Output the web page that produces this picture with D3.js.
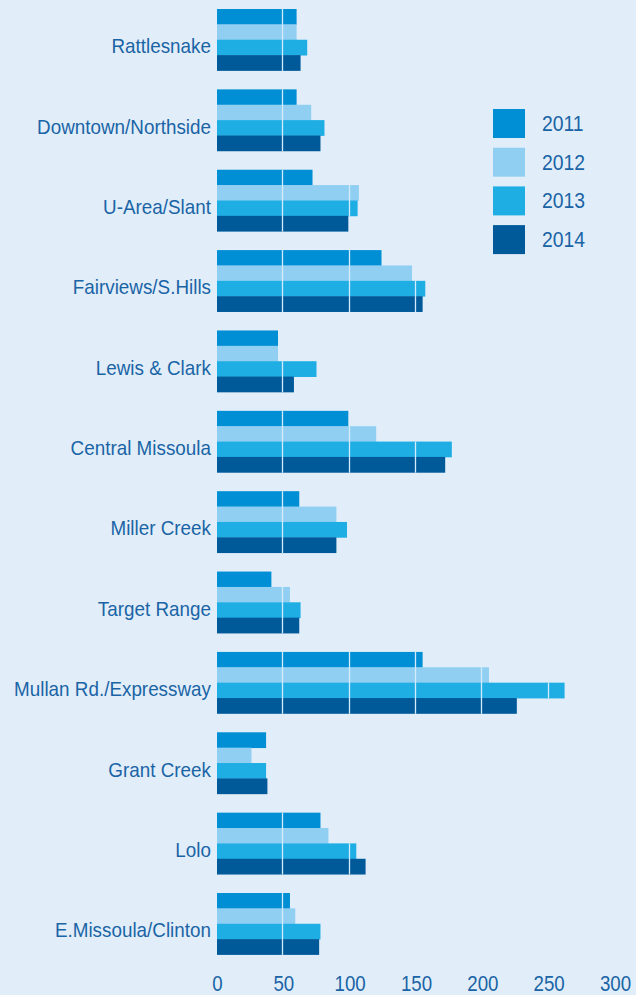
<!DOCTYPE html>
<html>
<head>
<meta charset="utf-8">
<script src="https://d3js.org/d3.v7.min.js"></script>
<style>
    body { margin: 0; background: #e1eef9; }
    svg text { font-family: "Liberation Sans", Arial, sans-serif; fill: #1a64a6; }
</style>
</head>
<body>
<script>
//neighbourhoods, top to bottom
var areas = ["Rattlesnake", "Downtown/Northside", "U-Area/Slant", "Fairviews/S.Hills",
    "Lewis & Clark", "Central Missoula", "Miller Creek", "Target Range",
    "Mullan Rd./Expressway", "Grant Creek", "Lolo", "E.Missoula/Clinton"];

var years = ["2011", "2012", "2013", "2014"];

//values per year, same order as areas
var v2011 = [60, 60, 72, 124, 46, 99, 62, 41, 155, 37, 78, 55];
var v2012 = [60, 71, 107, 147, 46, 120, 90, 55, 205, 26, 84, 59];
var v2013 = [68, 81, 106, 157, 75, 177, 98, 63, 262, 37, 105, 78];
var v2014 = [63, 78, 99, 155, 58, 172, 90, 62, 226, 38, 112, 77];

var xTicks = [0, 50, 100, 150, 200, 250, 300];

var colors = ["#008fd5", "#91cff2", "#1eaee4", "#005a9a"];

window.onload = drawChart();

function drawChart(){

    var width = 636,
        height = 995;

    var series = [v2011, v2012, v2013, v2014];

    //one record per area
    var rows = areas.map(function(a, i){
        return { area: a, values: years.map(function(y, j){ return { year: y, value: series[j][i] }; }) };
    });

    var svg = d3.select("body")
        .append("svg")
        .attr("width", width)
        .attr("height", height);

    svg.append("rect")
        .attr("width", width)
        .attr("height", height)
        .attr("fill", "#e1eef9");

    var x = d3.scaleLinear()
        .domain([0, 300])
        .range([217, 615]);

    var y0 = d3.scaleBand()
        .domain(areas)
        .range([9, 954.5])
        .paddingInner(0.235)
        .paddingOuter(0)
        .align(0);

    var y1 = d3.scaleBand()
        .domain(years)
        .range([0, y0.bandwidth()]);

    var color = d3.scaleOrdinal()
        .domain(years)
        .range(colors);

    //clip path so the grid shows only on the bars
    var clip = svg.append("defs").append("clipPath").attr("id", "barclip");

    var groups = svg.selectAll(".area")
        .data(rows)
        .enter()
        .append("g")
        .attr("class", "area")
        .attr("transform", function(d){ return "translate(0," + y0(d.area) + ")"; });

    groups.selectAll("rect")
        .data(function(d){ return d.values; })
        .enter()
        .append("rect")
        .attr("x", x(0))
        .attr("y", function(d){ return y1(d.year); })
        .attr("width", function(d){ return x(d.value) - x(0); })
        .attr("height", y1.bandwidth() + 0.4)
        .attr("fill", function(d){ return color(d.year); });

    rows.forEach(function(r){
        r.values.forEach(function(d){
            clip.append("rect")
                .attr("x", x(0))
                .attr("y", y0(r.area) + y1(d.year))
                .attr("width", x(d.value) - x(0))
                .attr("height", y1.bandwidth() + 0.4);
        });
    });

    //light grid lines, only visible over the bars
    svg.append("g")
        .attr("clip-path", "url(#barclip)")
        .selectAll("line")
        .data(xTicks.slice(1))
        .enter()
        .append("line")
        .attr("x1", function(d){ return Math.round(x(d)) - 0.5; })
        .attr("x2", function(d){ return Math.round(x(d)) - 0.5; })
        .attr("y1", 0)
        .attr("y2", height)
        .attr("stroke", "#d4ebfa")
        .attr("stroke-width", 1.3);

    //area labels (condensed look)
    groups.append("text")
        .attr("transform", "translate(211,44.3) scale(0.92,1)")
        .attr("text-anchor", "end")
        .style("font-size", "20.5px")
        .text(function(d){ return d.area; });

    //x axis labels
    var xAxis = d3.axisBottom(x)
        .tickValues(xTicks)
        .tickSize(0)
        .tickPadding(0);

    var ax = svg.append("g")
        .call(xAxis);
    ax.select(".domain").remove();
    ax.selectAll("text")
        .attr("y", null)
        .attr("dy", null)
        .attr("transform", "translate(0,991) scale(0.85,1)")
        .style("font-size", "22px")
        .style("font-family", null)
        .style("fill", null);

    //legend
    var legend = svg.selectAll(".legend")
        .data(years)
        .enter()
        .append("g")
        .attr("class", "legend")
        .attr("transform", function(d, i){ return "translate(493," + (109 + i * 38.7) + ")"; });

    legend.append("rect")
        .attr("width", 32)
        .attr("height", 29)
        .attr("fill", function(d){ return color(d); });

    legend.append("text")
        .attr("transform", "translate(49,22) scale(0.88,1)")
        .style("font-size", "22px")
        .text(function(d){ return d; });
}
</script>
</body>
</html>
